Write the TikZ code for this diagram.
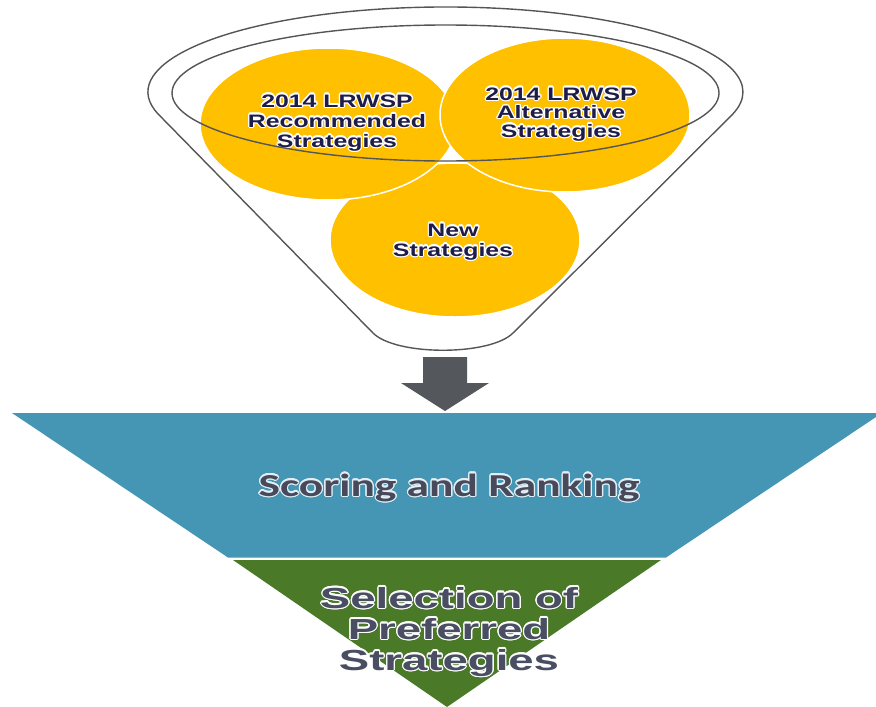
\documentclass[tikz,border=0pt]{standalone}
\usepackage{fontspec}
\usepackage{contour}
\usetikzlibrary{shapes.geometric}
\setmainfont{Liberation Sans}
\newfontfamily\circfont[FakeStretch=1.38]{Liberation Sans}
\newfontfamily\scorefont[FakeStretch=1.42]{Carlito}
\newfontfamily\selfont[FakeStretch=1.57]{Liberation Sans}
\definecolor{ylw}{HTML}{FFC000}
\definecolor{funnelgray}{HTML}{555555}
\definecolor{arrowgray}{HTML}{54575B}
\definecolor{bluefill}{HTML}{4596B5}
\definecolor{greenfill}{HTML}{4A7A28}
\definecolor{navytext}{HTML}{1E1C48}
\definecolor{scoretext}{HTML}{484A5C}
\definecolor{seltext}{HTML}{4A4E62}
\contourlength{1.2pt}
\newcommand\gl[1]{\contour{white}{#1}}
\begin{document}
\begin{tikzpicture}[x=1pt,y=-1pt,
  blob/.style={ellipse, fill=ylw, draw=white, line width=1.5pt, inner sep=0pt},
  funnelline/.style={draw=funnelgray, line width=1.4pt, line join=round},
  circtext/.style={align=center, text=navytext, inner sep=0pt,
    font=\circfont\bfseries\fontsize{18}{20}\selectfont},
  scoretxt/.style={align=center, text=scoretext, inner sep=0pt,
    font=\scorefont\bfseries\fontsize{32}{36}\selectfont},
  seltxt/.style={align=center, text=seltext, inner sep=0pt,
    font=\selfont\bfseries\fontsize{29}{31}\selectfont}]
\useasboundingbox (0,0) rectangle (876,707);
\clip (0,0) rectangle (876,707);
\fill[white] (0,0) rectangle (876,707);
% yellow circles
\node[blob, minimum width=250pt, minimum height=154pt] (newc) at (455,240) {};
\node[blob, minimum width=256pt, minimum height=152pt] (recc) at (328,124) {};
\node[blob, minimum width=250pt, minimum height=154pt] (altc) at (565,115) {};
% circle texts (base = baseline of last line)
\node[circtext, anchor=base] (rect) at (337,147) {\gl{2014 LRWSP}\\\gl{Recommended}\\\gl{Strategies}};
\node[circtext, anchor=base, font=\circfont\bfseries\fontsize{18}{18.5}\selectfont] (altt) at (561,137) {\gl{2014 LRWSP}\\\gl{Alternative}\\\gl{Strategies}};
\node[circtext, anchor=base] (newt) at (453,256) {\gl{New}\\\gl{Strategies}};
% funnel outline
\draw[funnelline] (158.1,114) arc[start angle=165, end angle=375, x radius=297.5, y radius=85]
  -- (513,333) .. controls (490,356) and (396,356) .. (373,333) -- cycle;
\draw[funnelline] (445.5,93) ellipse [x radius=273.5, y radius=68];
% arrow
\fill[arrowgray] (423,357) -- (467,357) -- (467,383) -- (489,383) -- (445,411)
  -- (401,383) -- (423,383) -- cycle;
% lower funnel
\fill[bluefill] (12,413) -- (882,413) -- (666,557.5) -- (228,557.5) -- cycle;
\fill[greenfill] (233,560) -- (661,560) -- (447,707) -- cycle;
\node[scoretxt, anchor=base] (score) at (449,496) {\contour{white!85!bluefill}{Scoring and Ranking}};
\node[seltxt, anchor=base] (sel) at (449,670) {\gl{Selection of}\\\gl{Preferred}\\\gl{Strategies}};
\end{tikzpicture}
\end{document}
